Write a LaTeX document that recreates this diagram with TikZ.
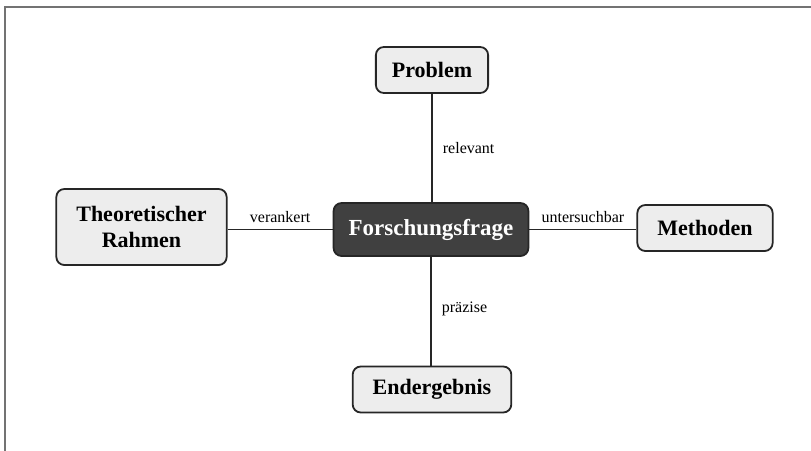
\documentclass[tikz,border=0pt]{standalone}
\usepackage{fontspec}
\setmainfont{Liberation Serif}
\usetikzlibrary{positioning}

\begin{document}
\begin{tikzpicture}[
        x=1pt, y=-1pt,
        box/.style={draw=black!85, line width=1.8pt, rounded corners=8pt,
          fill=black!7, align=center, inner xsep=16pt, inner ysep=4pt,
          minimum height=46pt, font=\fontsize{22}{26}\selectfont\bfseries},
        core/.style={box, fill=black!75, text=white, minimum height=53pt,
          inner xsep=15pt, font=\fontsize{23}{26}\selectfont\bfseries},
        link/.style={line width=1.8pt, draw=black!85},
        lbl/.style={font=\fontsize{16}{18}\selectfont, inner xsep=10pt, inner ysep=6pt}
      ]
        \useasboundingbox (0,0) rectangle (811,450);
        \draw[black!55, line width=2pt] (5,7) rectangle (830,470);
        \node[core] (frage) at (431,229.5) {Forschungsfrage};
        \node[box] (problem) at (432,70) {Problem};
        \node[box, inner xsep=20pt, minimum height=76pt] (rahmen) at (141.5,227) {Theoretischer\\Rahmen};
        \node[box, inner xsep=20pt] (methoden) at (705,228) {Methoden};
        \node[box, inner xsep=20pt] (ergebnis) at (432,389.5) {Endergebnis};
        \draw[link] (problem) -- node[lbl, right, pos=0.5] {relevant} (frage.north -| problem);
        \draw[link] (rahmen.east |- frage) -- node[lbl, above] {verankert} (frage);
        \draw[link] (frage) -- node[lbl, above] {untersuchbar} (methoden.west |- frage);
        \draw[link] (frage) -- node[lbl, right, pos=0.48] {präzise} (ergebnis.north -| frage);
      \end{tikzpicture}
\end{document}
